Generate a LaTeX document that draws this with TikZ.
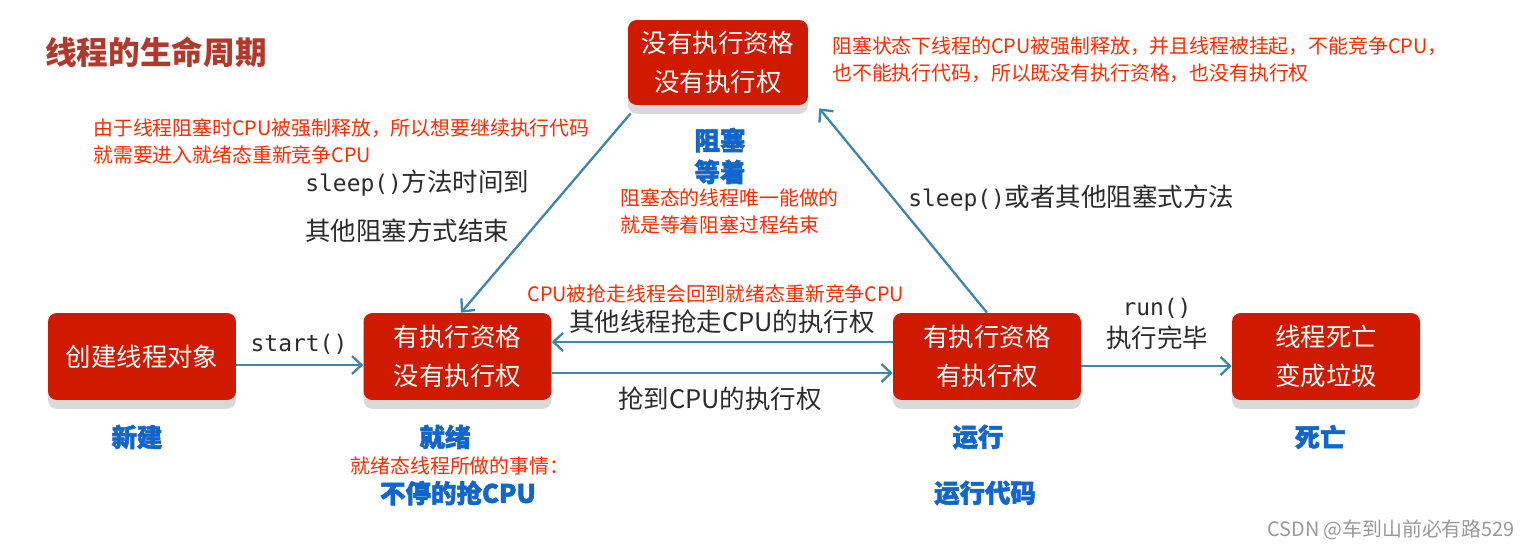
\documentclass[tikz,border=0pt]{standalone}
\usepackage{fontspec}
\setmainfont{Noto Sans CJK SC}
\newfontfamily\codefont{DejaVu Sans Mono}[Scale=0.9]
\newfontfamily\heavyfont{Noto Sans CJK SC}[BoldFeatures={FakeBold=2}]
\usetikzlibrary{arrows.meta,positioning,shadows}
\definecolor{BoxRed}{HTML}{CF1A00}
\definecolor{TitleRed}{HTML}{B0392C}
\definecolor{NoteRed}{HTML}{FF2A00}
\definecolor{Flow}{HTML}{3D86A6}
\definecolor{Phase}{HTML}{1166CC}
\definecolor{Ink}{HTML}{2B2B2B}
\tikzset{
 box/.style={fill=BoxRed,rounded corners=5pt,text=white,align=center,minimum width=3.76cm,minimum height=1.74cm,font=\fontsize{14.5}{22}\selectfont,drop shadow={shadow xshift=0pt,shadow yshift=-5pt,fill=black!15,opacity=1}},
 note/.style={text=NoteRed,align=left,inner sep=0pt,font=\fontsize{11.3}{15.3}\selectfont},
 trans/.style={text=Ink,inner sep=0pt,font=\fontsize{14.5}{18}\selectfont},
 tag/.style={text=Phase,align=center,inner sep=0pt,font=\fontsize{14.5}{18}\selectfont\heavyfont\bfseries},
 arr/.style={-{Straight Barb[length=1.9mm,width=3.6mm]},line width=1.3pt,draw=Flow}
}
\begin{document}
\begin{tikzpicture}[x=0.02cm,y=-0.02cm]
\useasboundingbox (0,0) rectangle (1530,550);
\node[anchor=west,text=TitleRed,inner sep=0pt,font=\fontsize{18}{20}\selectfont\bfseries] (title) at (45,52) {线程的生命周期};
% States.
\node[box,minimum width=3.6cm,minimum height=1.7cm] (blocked) at (718,62.5) {没有执行资格\\没有执行权};
\node[box] (new) at (142,356.5) {创建线程对象};
\node[box] (ready) at (457.5,356.5) {有执行资格\\没有执行权};
\node[box] (running) at (987,356.5) {有执行资格\\有执行权};
\node[box] (dead) at (1326,356.5) {线程死亡\\变成垃圾};
% Transitions.
\draw[arr] ([yshift=-0.17cm]new.east) -- ([yshift=-0.17cm]ready.west);
\draw[arr] ([yshift=-0.33cm]ready.east) -- ([yshift=-0.33cm]running.west);
\draw[arr] ([yshift=0.29cm]running.west) -- ([yshift=0.29cm]ready.east);
\draw[arr] ([yshift=-0.19cm]running.east) -- ([yshift=-0.19cm]dead.west);
\draw[arr] ([xshift=0.06cm,yshift=-0.16cm]blocked.south west) -- ([xshift=0.07cm]ready.north);
\draw[arr] (running.north) -- ([xshift=0.22cm,yshift=-0.06cm]blocked.south east);
\node[trans] (startlbl) at (299,344) {\codefont start()};
\node[trans] (grablbl) at (720,399) {抢到CPU的执行权};
\node[trans] (loselbl) at (722,322) {其他线程抢走CPU的执行权};
\node[trans] (runlbl) at (1157,308) {\codefont run()};
\node[trans] (donelbl) at (1157,338) {执行完毕};
\node[trans,anchor=west] (wakelbl) at (305,183) {{\codefont sleep()}方法时间到};
\node[trans,anchor=west] (endlbl) at (305,231) {其他阻塞方式结束};
\node[trans,anchor=west] (sleeplbl) at (908,198) {{\codefont sleep()}或者其他阻塞式方法};
% Notes.
\node[note,anchor=west] (blocknote) at (832,60) {阻塞状态下线程的CPU被强制释放，并且线程被挂起，不能竞争CPU，\\也不能执行代码，所以既没有执行资格，也没有执行权};
\node[note,anchor=west] (backnote) at (93,141) {由于线程阻塞时CPU被强制释放，所以想要继续执行代码\\就需要进入就绪态重新竞争CPU};
\node[note,anchor=west] (waitnote) at (620,211) {阻塞态的线程唯一能做的\\就是等着阻塞过程结束};
\node[note,anchor=west] (losenote) at (527,294) {CPU被抢走线程会回到就绪态重新竞争CPU};
\node[note] (readynote) at (460,466) {就绪态线程所做的事情：};
% Phase names.
\node[tag] (newtag) at (137,437) {新建};
\node[tag] (readytag) at (445,437) {就绪};
\node[tag] (runtag) at (978,437) {运行};
\node[tag] (deadtag) at (1320,437) {死亡};
\node[tag] (blocktag) at (720,156) {阻塞\\等着};
\node[tag] (grabtag) at (458,493) {不停的抢CPU};
\node[tag] (codetag) at (985,493) {运行代码};
\node[text=black!40,inner sep=0pt,font=\fontsize{11.3}{13}\selectfont] (mark) at (1391,530) {CSDN @车到山前必有路529};
\end{tikzpicture}
\end{document}
